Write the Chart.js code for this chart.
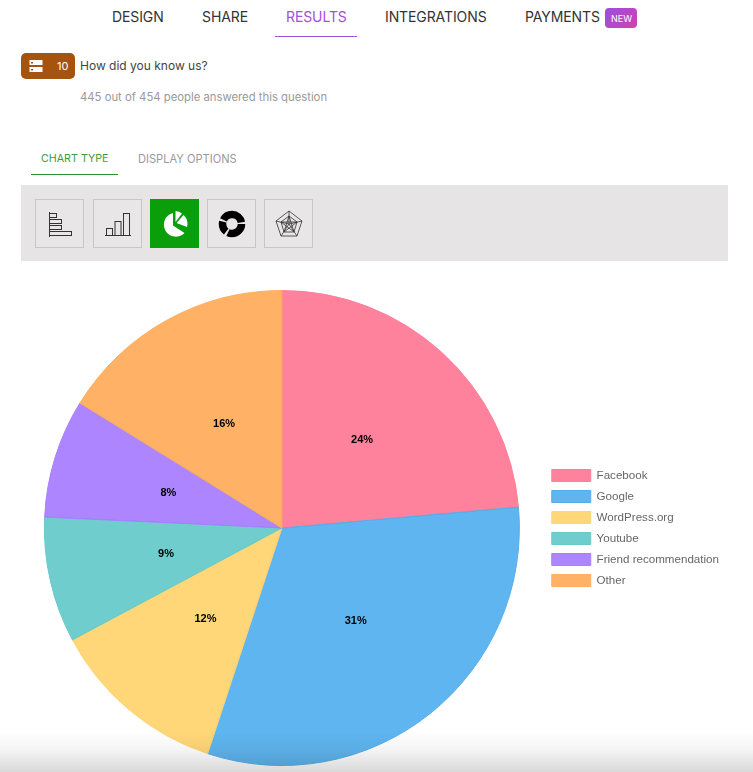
<!DOCTYPE html>
<html>
<head>
<meta charset="utf-8">
<script src="https://cdn.jsdelivr.net/npm/chart.js@4"></script>
<style>
html,body{margin:0;padding:0;background:#fff;width:753px;height:772px;overflow:hidden}
body{position:relative;font-family:Inter,"Liberation Sans",sans-serif}
.t{position:absolute;white-space:nowrap;line-height:1}
.nav{top:10px;font-size:14px;color:#333;letter-spacing:-.1px}
.abs{position:absolute}
.btn{position:absolute;top:199px;width:47px;height:47px;border:1px solid #c8c6c7;background:#e8e6e7;display:flex;align-items:center;justify-content:center}
#c{position:absolute;left:21px;top:281px;display:block}
#fade{position:absolute;left:0;right:0;top:732px;height:40px;background:linear-gradient(to bottom,#fff,#f4f4f4 45%,#d9d9d9);mix-blend-mode:multiply;pointer-events:none}
</style>
</head>
<body>
<div class="t nav" style="left:112px">DESIGN</div>
<div class="t nav" style="left:202px">SHARE</div>
<div class="t nav" style="left:286px;color:#a24fdc">RESULTS</div>
<div class="t nav" style="left:385px">INTEGRATIONS</div>
<div class="t nav" style="left:525px">PAYMENTS</div>
<div class="abs" style="left:605px;top:8px;width:32px;height:20px;border-radius:4px;background:linear-gradient(135deg,#9a4fe0,#d23fb0)"></div>
<div class="t" style="left:611px;top:13.5px;font-size:9px;color:#fff">NEW</div>
<div class="abs" style="left:275px;top:36px;width:82px;height:1px;background:#9a55dc"></div>

<div class="abs" style="left:21px;top:53px;width:54px;height:26px;border-radius:5px;background:#a5530f"></div>
<svg class="abs" style="left:29px;top:59px" width="15" height="14"><rect x="0.5" y="1" width="13" height="5" fill="#fff"/><rect x="0.5" y="8" width="13" height="5" fill="#fff"/><rect x="2" y="3" width="2" height="1.5" fill="#a5530f"/><rect x="2" y="10" width="2" height="1.5" fill="#a5530f"/></svg>
<div class="t" style="left:57px;top:61px;font-size:11px;color:#fff">10</div>
<div class="t" style="left:80px;top:60px;font-size:12px;color:#444">How did you know us?</div>
<div class="t" style="left:80px;top:92px;font-size:11.300px;color:#999">445 out of 454 people answered this question</div>

<div class="t" style="left:41px;top:154px;font-size:10.700px;color:#3f9a3f">CHART TYPE</div>
<div class="t" style="left:138px;top:154px;font-size:11.100px;color:#999">DISPLAY OPTIONS</div>
<div class="abs" style="left:31px;top:174px;width:87px;height:1px;background:#2f8f2f"></div>
<div class="abs" style="left:21px;top:185px;width:707px;height:76px;background:#e6e4e5"></div>

<div class="btn" style="left:35px"><svg width="26" height="26" fill="none" stroke="#333" stroke-width="1"><path d="M2.500 1v25"/><rect x="2.500" y="2.500" width="7" height="4"/><rect x="2.500" y="8.500" width="12" height="4"/><rect x="2.500" y="14.500" width="12" height="4"/><rect x="2.500" y="20.500" width="22" height="4"/></svg></div>
<div class="btn" style="left:93px"><svg width="26" height="26" fill="none" stroke="#333" stroke-width="1"><path d="M0 24.500h26"/><rect x="1.500" y="17.500" width="6" height="7"/><rect x="10" y="10.500" width="6" height="14"/><rect x="18.500" y="2.500" width="6" height="22"/></svg></div>
<div class="btn" style="left:150px;background:#0a9e0a;border-color:#0a9e0a"><svg width="30" height="30" fill="#fff"><path d="M13 4A12 12 0 1 0 24.500 24L13 16.500Z"/><path d="M15.500 2A12 12 0 0 1 22 4.500L15.500 13Z"/><path d="M23.500 6A12 12 0 0 1 27 18L16.500 14Z"/></svg></div>
<div class="btn" style="left:207px"><svg width="30" height="30" fill="none" stroke="#000" stroke-width="7.500"><circle cx="15" cy="15" r="9.500" stroke-dasharray="19 2 11 2 23.700 2"/></svg></div>
<div class="btn" style="left:264px"><svg width="28" height="28" fill="none" stroke="#333" stroke-width=".8"><path d="M14 1L27 11L22 26H6L1 11Z"/><path d="M14 6L22 12L19 22H9L6 12Z"/><path d="M14 1V14M27 11L14 14M22 26L14 14M6 26L14 14M1 11L14 14M14 6L19 22L6 12H22L9 22Z"/></svg></div>

<canvas id="c" width="708" height="491"></canvas>
<div id="fade"></div>

<script>
const categories = ["Facebook","Google","WordPress.org","Youtube","Friend recommendation","Other"];
const responses = [105,140,54,38,36,72];
const sliceColors = ["rgba(255,99,132,.8)","rgba(54,162,235,.8)","rgba(255,205,86,.8)","rgba(75,192,192,.8)","rgba(153,102,255,.8)","rgba(255,159,64,.8)"];
const strokeColors = ["#ff7f9b","#57ade9","#ffd474","#69cac9","#a87fff","#ffaf60"];

const percentLabels = {
  id:"percentLabels",
  afterDatasetsDraw(chart){
    const {ctx} = chart, meta = chart.getDatasetMeta(0);
    const total = responses.reduce((a,b)=>a+b,0);
    ctx.save();
    ctx.font = 'bold 11px "Liberation Sans"';
    ctx.fillStyle = "#000";
    ctx.textAlign = "center";
    ctx.textBaseline = "middle";
    meta.data.forEach((arc,i)=>{
      const p = arc.tooltipPosition();
      ctx.fillText(Math.round(responses[i]/total*100)+"%",p.x,p.y);
    });
    ctx.restore();
  }
};

new Chart(document.getElementById("c"),{
  type:"pie",
  data:{labels:categories,datasets:[{data:responses,backgroundColor:sliceColors,borderColor:strokeColors,borderWidth:1}]},
  plugins:[percentLabels],
  options:{
    responsive:false,
    animation:false,
    layout:{padding:{top:9,bottom:6,left:0,right:0}},
    plugins:{
      tooltip:{enabled:false},
      legend:{
        position:"right",
        labels:{boxWidth:39,boxHeight:12,padding:9,color:"#666",font:{family:'"Liberation Sans"',size:11.600}}
      }
    }
  }
});
</script>
</body>
</html>
